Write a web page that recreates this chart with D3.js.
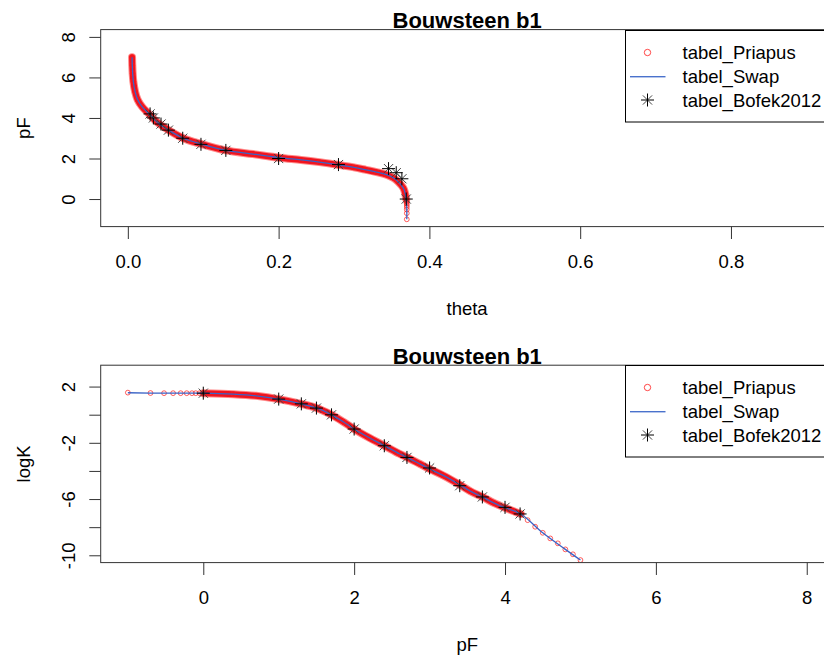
<!DOCTYPE html>
<html><head><meta charset="utf-8">
<script src="https://cdn.jsdelivr.net/npm/d3@7"></script>
<style>
body{margin:0;background:#fff}
text{font-family:"Liberation Sans", Arial, sans-serif;fill:#000}
</style>
</head><body>
<svg id="chart" width="824" height="655"></svg>
<script>
// ---------- data ----------
const titleText = "Bouwsteen b1";
const legendLabels = ["tabel_Priapus", "tabel_Swap", "tabel_Bofek2012"];

const thetaTicks = [0, 0.2, 0.4, 0.6, 0.8];
const pfTicksTop = [0, 2, 4, 6, 8];
const pfTicksBottom = [0, 2, 4, 6, 8];
const logKTicks = [2, 0, -2, -4, -6, -8, -10];
const logKTickLabels = ["2", "", "-2", "", "-6", "", "-10"];

// Priapus: retention curve (theta vs pF)
const priapusTopPF    = [7.0, 6.6, 6.2, 5.8, 5.3, 4.9, 4.56, 4.2, 3.8, 3.4, 3.0, 2.72, 2.4, 2.22, 2.04, 1.93, 1.82, 1.68, 1.56, 1.44, 1.33, 1.2, 1.05, 0.87, 0.54, 0.25, 0.0,
                         -0.05, -0.1, -0.15, -0.22, -0.3, -0.4, -0.52, -0.7, -1.0];
const priapusTopTheta = [0.0056, 0.0059, 0.0064, 0.0073, 0.0096, 0.013, 0.0188, 0.028, 0.0385, 0.054, 0.0735, 0.097, 0.130, 0.166, 0.201, 0.230, 0.254, 0.280, 0.300, 0.316, 0.330, 0.343, 0.352, 0.358, 0.3655, 0.368, 0.3693,
                         0.3695, 0.3697, 0.3698, 0.3699, 0.3700, 0.3700, 0.3700, 0.3700, 0.3700];

// Priapus: conductivity curve (logK vs pF)
const priapusBottomPF   = [-1.0, -0.7, -0.52, -0.4, -0.3, -0.22, -0.15, -0.1, -0.05,
                           0.0, 0.4, 0.7, 1.0, 1.3, 1.5, 1.7, 1.86, 2.0, 2.2, 2.4, 2.6, 2.7, 2.87, 3.0, 3.18, 3.4, 3.54, 3.7, 3.85, 4.0, 4.21,
                           4.3, 4.4, 4.5, 4.6, 4.7, 4.8, 4.9, 5.0];
const priapusBottomLogK = [1.57, 1.54, 1.53, 1.53, 1.53, 1.53, 1.53, 1.53, 1.53,
                           1.53, 1.46, 1.34, 1.11, 0.77, 0.48, -0.01, -0.52, -1.02, -1.64, -2.20, -2.78, -3.03, -3.50, -3.86, -4.32, -4.98, -5.44, -5.85, -6.27, -6.62, -7.06,
                           -7.50, -7.97, -8.40, -8.80, -9.15, -9.58, -9.93, -10.34];

// Swap
const swapTopPF    = [7.0, 6.6, 6.2, 5.8, 5.3, 4.9, 4.56, 4.2, 3.8, 3.4, 3.0, 2.72, 2.4, 2.22, 2.04, 1.93, 1.82, 1.68, 1.56, 1.44, 1.33, 1.2, 1.05, 0.87, 0.54, 0.25, 0.0, -0.5, -1.0];
const swapTopTheta = [0.0056, 0.0059, 0.0064, 0.0073, 0.0096, 0.013, 0.0188, 0.028, 0.0385, 0.054, 0.0735, 0.097, 0.130, 0.166, 0.201, 0.230, 0.254, 0.280, 0.300, 0.316, 0.330, 0.343, 0.352, 0.358, 0.3655, 0.368, 0.3693, 0.3700, 0.3700];
const swapBottomPF   = [-1.0, -0.5, 0.0, 0.4, 0.7, 1.0, 1.3, 1.5, 1.7, 1.86, 2.0, 2.2, 2.4, 2.6, 2.7, 2.87, 3.0, 3.18, 3.4, 3.54, 3.7, 3.85, 4.0, 4.21, 4.5, 4.8, 5.0];
const swapBottomLogK = [1.56, 1.53, 1.53, 1.46, 1.34, 1.11, 0.77, 0.48, -0.01, -0.52, -1.02, -1.64, -2.20, -2.78, -3.03, -3.50, -3.86, -4.32, -4.98, -5.44, -5.85, -6.27, -6.62, -7.06, -8.40, -9.58, -10.34];

// Bofek2012
const bofekPF    = [0, 1.0, 1.3, 1.5, 1.7, 2.0, 2.4, 2.7, 3.0, 3.4, 3.7, 4.0, 4.2];
const bofekTheta = [0.3693, 0.3635, 0.356, 0.3458, 0.2794, 0.200, 0.130, 0.097, 0.0728, 0.0538, 0.044, 0.0339, 0.0295];
const bofekLogK  = [1.53, 1.11, 0.77, 0.47, -0.01, -1.02, -2.21, -3.04, -3.79, -5.05, -5.85, -6.59, -7.06];

// ---------- drawing ----------
const svg = d3.select("#chart");
svg.append("rect").attr("width", 824).attr("height", 655).attr("fill", "#fff");

const RED = "#ff1a1a", BLUE = "#3a63c6";
const plusPath = "M-6.5,0H6.5M0,-6.5V6.5";
const crossPath = "M-4.6,-4.6L4.6,4.6M-4.6,4.6L4.6,-4.6";
const FS = "18.5px";

function star(sel) {
  sel.append("path").attr("d", crossPath).attr("stroke", "#444").attr("stroke-width", 1).attr("fill", "none");
  sel.append("path").attr("d", plusPath).attr("stroke", "#000").attr("stroke-width", 1).attr("fill", "none");
}

function panel(cfg) {
  const {x, y, id} = cfg;
  const [x0, x1] = x.range(), [yb, yt] = y.range();
  const g = svg.append("g");

  g.append("clipPath").attr("id", id).append("rect")
    .attr("x", x0).attr("y", yt).attr("width", x1 - x0).attr("height", yb - yt);
  const data = g.append("g").attr("clip-path", `url(#${id})`);

  const L = d3.line().x(d => x(d[0])).y(d => y(d[1])).curve(d3.curveCatmullRom.alpha(0.5));

  // Priapus dense band (hundreds of overlapping circles in the original)
  const pri = cfg.priX.map((v, i) => [v, cfg.priY[i]]);
  const dense = pri.filter(cfg.dense);
  data.append("path").attr("d", L(dense)).attr("fill", "none")
    .attr("stroke", "#ff8a8a").attr("stroke-width", 8).attr("stroke-linecap", "round").attr("stroke-linejoin", "round");
  data.append("path").attr("d", L(dense)).attr("fill", "none")
    .attr("stroke", "#f0141e").attr("stroke-width", 6).attr("stroke-linecap", "round").attr("stroke-linejoin", "round");
  data.append("g").selectAll("circle").data(pri).join("circle")
    .attr("cx", d => x(d[0])).attr("cy", d => y(d[1])).attr("r", 2.4)
    .attr("fill", "none").attr("stroke", RED).attr("stroke-opacity", 0.7).attr("stroke-width", 1);

  // Swap line
  const sw = cfg.swX.map((v, i) => [v, cfg.swY[i]]);
  data.append("path").attr("d", L(sw)).attr("fill", "none")
    .attr("stroke", BLUE).attr("stroke-width", 1.3);

  // Bofek stars
  const bo = cfg.boX.map((v, i) => [v, cfg.boY[i]]);
  data.append("g").selectAll("g").data(bo).join("g")
    .attr("transform", d => `translate(${x(d[0])},${y(d[1])})`)
    .call(star);

  // axes
  const ax = g.append("g").attr("transform", `translate(0,${yb})`)
    .call(d3.axisBottom(x).tickValues(cfg.xTicks).tickSize(12.4).tickSizeOuter(0).tickFormat(cfg.xFmt));
  ax.attr("font-size", null).attr("font-family", null);
  ax.select(".domain").remove();
  ax.selectAll("line").attr("stroke", "#333");
  ax.selectAll("text").attr("y", 41.7).attr("dy", null).style("font-size", FS).attr("fill", "#000");

  const ay = g.append("g").attr("transform", `translate(${x0},0)`)
    .call(d3.axisLeft(y).tickValues(cfg.yTicks).tickSize(11.4).tickSizeOuter(0).tickFormat((d, i) => cfg.yLabels[i]));
  ay.attr("font-size", null).attr("font-family", null);
  ay.select(".domain").remove();
  ay.selectAll("line").attr("stroke", "#333");
  ay.selectAll("text").attr("transform", "rotate(-90)").attr("x", 0).attr("y", -25.7).attr("dy", null)
    .attr("text-anchor", "middle").style("font-size", FS).attr("fill", "#000");

  // box
  g.append("rect").attr("x", x0).attr("y", yt).attr("width", x1 - x0).attr("height", yb - yt)
    .attr("fill", "none").attr("stroke", "#333").attr("stroke-width", 1);

  // titles
  const cx = (x0 + x1) / 2;
  g.append("text").attr("x", cx).attr("y", yt - 1.7).attr("text-anchor", "middle")
    .style("font-size", "22px").style("font-weight", "bold").text(titleText);
  g.append("text").attr("x", cx).attr("y", yb + 88.5).attr("text-anchor", "middle")
    .style("font-size", FS).text(cfg.xTitle);
  g.append("text").attr("transform", `translate(30,${(yt + yb) / 2}) rotate(-90)`).attr("text-anchor", "middle")
    .style("font-size", FS).text(cfg.yTitle);

  // legend
  const ly = Math.round(yt);
  const lg = g.append("g").attr("transform", `translate(625.5,${ly + 0.5})`);
  lg.append("rect").attr("width", 300).attr("height", 91.5).attr("fill", "#fff").attr("stroke", "#000").attr("stroke-width", 1);
  const rows = [22, 46, 69.5];
  lg.append("circle").attr("cx", 22).attr("cy", rows[0]).attr("r", 3.2).attr("fill", "none").attr("stroke", RED).attr("stroke-opacity", 0.8);
  lg.append("rect").attr("x", 4.5).attr("y", rows[1] - 0.5).attr("width", 35.5).attr("height", 1.4).attr("fill", "#4a72cc");
  lg.append("g").attr("transform", `translate(22,${rows[2]})`).call(star);
  legendLabels.forEach((t, i) => lg.append("text").attr("x", 57).attr("y", rows[i] + 6.6).style("font-size", FS).text(t));
}

// top: retention
panel({
  id: "clipTop",
  x: d3.scaleLinear([-0.036, 0.936], [100.7, 833.5]),
  y: d3.scaleLinear([-1.36, 8.36], [226.6, 29.6]),
  priX: priapusTopTheta, priY: priapusTopPF, dense: d => d[1] >= 0,
  swX: swapTopTheta, swY: swapTopPF,
  boX: bofekTheta, boY: bofekPF,
  xTicks: thetaTicks, xFmt: d3.format(".1f"),
  yTicks: pfTicksTop, yLabels: pfTicksTop.map(String),
  xTitle: "theta", yTitle: "pF"
});

// bottom: conductivity
panel({
  id: "clipBot",
  x: d3.scaleLinear([-1.36, 8.36], [100.7, 833.9]),
  y: d3.scaleLinear([-10.52, 3.52], [562.6, 365.2]),
  priX: priapusBottomPF, priY: priapusBottomLogK, dense: d => d[0] >= 0 && d[0] <= 4.21,
  swX: swapBottomPF, swY: swapBottomLogK,
  boX: bofekPF, boY: bofekLogK,
  xTicks: pfTicksBottom, xFmt: d3.format("d"),
  yTicks: logKTicks, yLabels: logKTickLabels,
  xTitle: "pF", yTitle: "logK"
});
</script>
</body></html>
